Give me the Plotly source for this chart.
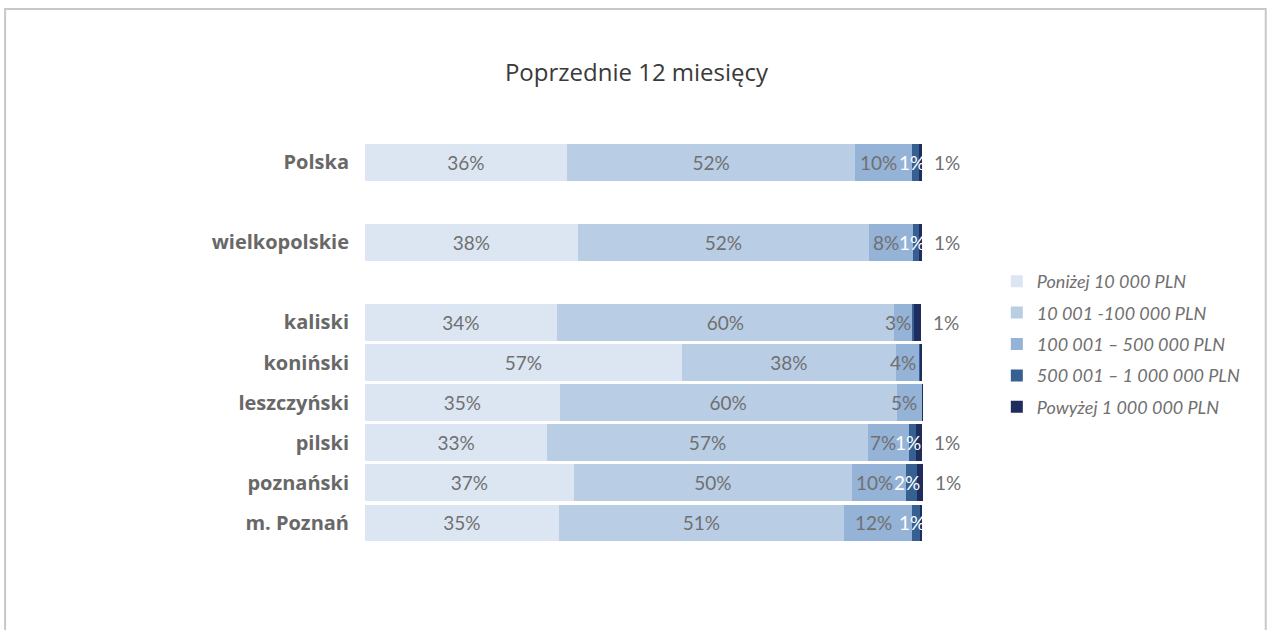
import plotly.graph_objects as go

categories = ["Polska", "wielkopolskie", "kaliski", "koniński", "leszczyński",
              "pilski", "poznański", "m. Poznań"]
# slot positions (gaps after Polska and wielkopolskie)
slots = [0, 2, 4, 5, 6, 7, 8, 9]

series_names = ["Poniżej 10 000 PLN", "10 001 -100 000 PLN", "100 001 – 500 000 PLN",
                "500 001 – 1 000 000 PLN", "Powyżej 1 000 000 PLN"]

s_below_10k = [36.2, 38.1, 34.4, 56.8, 34.9, 32.7, 37.4, 34.7]
s_10k_100k = [51.7, 52.3, 60.4, 38.4, 60.4, 57.4, 49.9, 51.2]
s_100k_500k = [10.2, 7.9, 3.3, 4.2, 4.6, 7.4, 9.7, 12.2]
s_500k_1m = [1.2, 1.0, 0.35, 0.1, 0.0, 1.2, 1.9, 1.4]
s_above_1m = [0.6, 0.6, 1.3, 0.3, 0.1, 1.2, 1.2, 0.3]

series_values = [s_below_10k, s_10k_100k, s_100k_500k, s_500k_1m, s_above_1m]
colors = ["#dce6f2", "#b9cde5", "#95b3d7", "#366092", "#1f2d5e"]
label_gray = "#707070"
label_font = "Lato"
label_size = 19

X_MAX = 102.0
PX_PER_UNIT = 5.58


def pct(v):
    return f"{round(v):.0f}%" if v >= 0.5 else ""


fig = go.Figure()
for i, (name, vals) in enumerate(zip(series_names, series_values)):
    inside = i < 2
    fig.add_trace(go.Bar(
        y=slots, x=vals, name=name, orientation="h",
        marker=dict(color=colors[i], line=dict(width=0)),
        width=0.92,
        text=[pct(v) for v in vals] if inside else None,
        textposition="inside" if inside else "none",
        insidetextanchor="middle",
        textangle=0,
        constraintext="none",
        textfont=dict(family=label_font, size=label_size, color=label_gray),
        legendgroup=f"g{i}",
        hoverinfo="x+name",
    ))

annotations = []
for k, slot in enumerate(slots):
    base2 = s_below_10k[k] + s_10k_100k[k]
    v3 = s_100k_500k[k]
    if v3 >= 0.5:
        annotations.append(dict(x=base2 + v3 / 2, y=slot, xref="x", yref="y",
                                text=pct(v3), showarrow=False, xshift=-5,
                                font=dict(family=label_font, size=label_size, color=label_gray)))
    base = base2 + v3
    v4 = s_500k_1m[k]
    if v4 >= 0.5:
        annotations.append(dict(x=base + v4 / 2, y=slot, xref="x", yref="y",
                                text=pct(v4), showarrow=False, xshift=-4,
                                font=dict(family=label_font, size=label_size, color="#ffffff")))
    v5 = s_above_1m[k]
    total = base + v4 + v5
    if v5 >= 0.5:
        annotations.append(dict(x=total, y=slot, xref="x", yref="y",
                                text=pct(v5), showarrow=False, xanchor="left", xshift=10,
                                font=dict(family=label_font, size=label_size, color=label_gray)))

plot_w = X_MAX * PX_PER_UNIT
left = 365
right = 1273 - left - plot_w

fig.update_layout(
    barmode="stack",
    width=1273, height=630,
    margin=dict(l=left, r=right, t=142, b=87, autoexpand=False),
    paper_bgcolor="white", plot_bgcolor="white",
    title=dict(text="Poprzednie 12 miesięcy", x=0.5, xref="container", xanchor="center",
               y=1 - 73 / 630, yref="container", yanchor="middle",
               font=dict(family="Open Sans", size=24, color="#3a3a3a")),
    xaxis=dict(range=[0, X_MAX], visible=False, fixedrange=True),
    yaxis=dict(range=[9.5, -0.5], tickvals=slots, ticktext=categories,
               showgrid=False, zeroline=False, showline=False, ticks="",
               ticklabelstandoff=15,
               tickfont=dict(family="Open Sans", size=20, color="#686868", weight="bold")),
    legend=dict(x=(997 - left) / plot_w, xanchor="left", y=(543 - 263) / 401, yanchor="top",
                traceorder="grouped", tracegroupgap=5,
                font=dict(family="Lato", size=18, color="#707070", style="italic"),
                itemwidth=30),
    showlegend=True,
    annotations=annotations,
    shapes=[dict(type="rect", xref="paper", yref="paper",
                 x0=(5 - left) / plot_w, x1=(1266 - left) / plot_w,
                 y0=-0.5, y1=(543 - 9) / 401,
                 line=dict(color="#c8c8c8", width=2), fillcolor="rgba(0,0,0,0)",
                 layer="below")],
)

fig.write_html("out.html", config={"displayModeBar": False},
               post_script="document.body.style.margin='0';")
